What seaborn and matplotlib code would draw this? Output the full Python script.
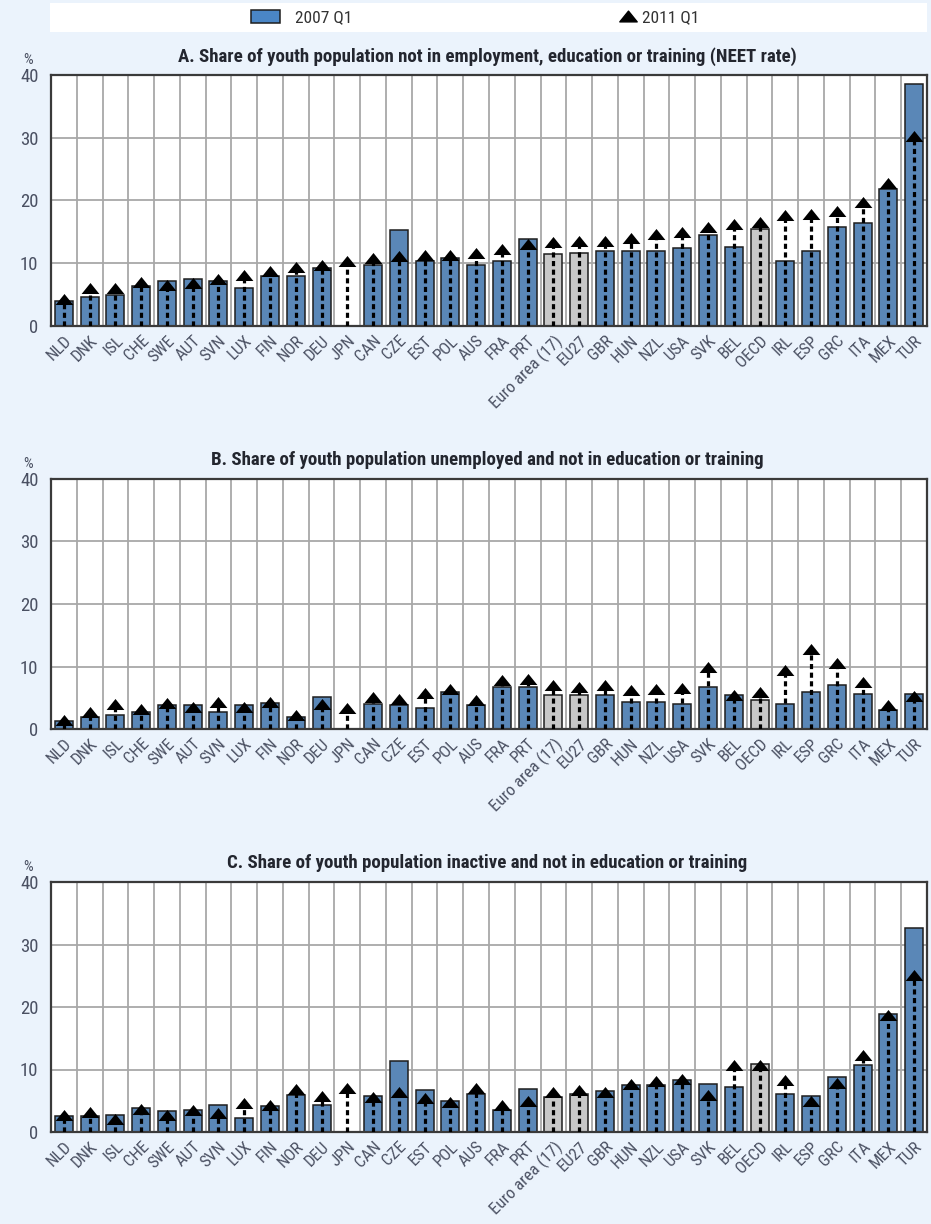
import numpy as np
import pandas as pd
import matplotlib
matplotlib.use("Agg")
import matplotlib.pyplot as plt
import matplotlib.font_manager as fm
from matplotlib.patches import Rectangle, Patch
from matplotlib.lines import Line2D
from matplotlib.path import Path
import seaborn as sns

# ---------------------------------------------------------------- data
countries = ["NLD", "DNK", "ISL", "CHE", "SWE", "AUT", "SVN", "LUX", "FIN", "NOR",
             "DEU", "JPN", "CAN", "CZE", "EST", "POL", "AUS", "FRA", "PRT",
             "Euro area (17)", "EU27", "GBR", "HUN", "NZL", "USA", "SVK", "BEL",
             "OECD", "IRL", "ESP", "GRC", "ITA", "MEX", "TUR"]
aggregates = ["Euro area (17)", "EU27", "OECD"]

nan = np.nan
# A. NEET rate
neet_2007 = [4.0, 4.6, 5.0, 6.4, 7.2, 7.5, 7.2, 6.1, 7.9, 7.9, 9.3, nan, 9.8, 15.3, 10.3,
             10.8, 9.8, 10.3, 13.9, 11.4, 11.7, 11.9, 11.9, 11.9, 12.4, 14.5, 12.6, 15.5,
             10.3, 11.9, 15.8, 16.4, 21.8, 38.5]
neet_2011 = [4.3, 6.0, 6.1, 7.0, 6.6, 6.9, 7.5, 8.1, 8.7, 9.4, 9.8, 10.3, 10.9, 11.2, 11.3,
             11.3, 11.7, 12.3, 13.0, 13.4, 13.5, 13.6, 14.0, 14.7, 15.0, 15.8, 16.2, 16.6,
             17.7, 17.8, 18.4, 19.7, 22.8, 30.3]
# B. Unemployed and not in education or training
unemp_2007 = [1.3, 2.0, 2.2, 2.8, 3.8, 3.8, 2.8, 3.8, 4.1, 2.0, 5.1, nan, 4.0, 3.8, 3.3,
              5.9, 3.8, 6.7, 6.8, 5.4, 5.4, 5.4, 4.4, 4.4, 4.0, 6.7, 5.4, 4.7, 4.0, 5.9,
              7.0, 5.6, 3.0, 5.6]
unemp_2011 = [1.5, 2.7, 4.0, 3.2, 4.2, 3.5, 4.4, 3.5, 4.3, 2.3, 4.0, 3.4, 5.1, 4.8, 5.7,
              6.4, 4.6, 7.8, 8.0, 7.1, 6.8, 7.1, 6.3, 6.4, 6.5, 10.0, 5.5, 5.9, 9.4, 12.8,
              10.5, 7.5, 3.8, 5.3]
# C. Inactive and not in education or training
inact_2007 = [2.5, 2.5, 2.7, 3.8, 3.3, 3.5, 4.3, 2.2, 4.1, 5.9, 4.3, nan, 5.7, 11.4, 6.7,
              4.9, 6.1, 3.5, 6.9, 5.6, 6.1, 6.5, 7.5, 7.5, 8.3, 7.7, 7.2, 10.9, 6.1, 5.8,
              8.8, 10.7, 18.9, 32.6]
inact_2011 = [2.7, 3.2, 2.1, 3.7, 2.7, 3.6, 3.0, 4.7, 4.4, 6.9, 5.8, 7.0, 5.6, 6.4, 5.5,
              4.8, 7.0, 4.4, 4.9, 6.4, 6.7, 6.4, 7.7, 8.2, 8.5, 5.9, 10.8, 10.7, 8.3, 4.9,
              7.8, 12.3, 18.8, 25.1]

titles = ["A. Share of youth population not in employment, education or training (NEET rate)",
          "B. Share of youth population unemployed and not in education or training",
          "C. Share of youth population inactive and not in education or training"]
series_labels = ["2007 Q1", "2011 Q1"]
y_ticks = [0, 10, 20, 30, 40]

# ---------------------------------------------------------------- style
BG = "#EBF3FC"
BLUE = "#4A86C6"
GREY = "#C8C8C8"
EDGE = "#1E1E1E"
FRAME = "#3A3A3A"
GRID = "#A8A8A8"
LABEL = "#4A5062"
TITLE = "#23262F"

sns.set_theme(style="white")


def pick_narrow_font():
    """Return (family, stretch) of an installed narrow sans face, if any."""
    keys = ("narrow", "condensed", "cond")
    found = []
    for f in fm.fontManager.ttflist:
        fname = f.fname.lower().replace("-", "").replace("_", "")
        name = f.name.lower()
        if any(k in fname for k in keys) or any(k in name for k in keys) \
                or str(f.stretch) in ("condensed", "semi-condensed", "extra-condensed"):
            if "mono" in fname or "serif" in name and "sans" not in name:
                continue
            found.append(f)
    pref = ["liberation sans narrow", "roboto condensed", "open sans condensed",
            "noto sans", "dejavu sans"]
    for p in pref:
        for f in found:
            if f.name.lower().startswith(p):
                return f.name, f.stretch
    if found:
        return found[0].name, found[0].stretch
    return None, None


fam, stretch = pick_narrow_font()
if fam is not None:
    plt.rcParams["font.family"] = [fam, "DejaVu Sans"]
    plt.rcParams["font.stretch"] = stretch
    SIZE_SCALE = 1.0
else:
    plt.rcParams["font.family"] = ["Roboto", "DejaVu Sans"]
    SIZE_SCALE = 0.9

# wide, flat triangle for the 2011 markers
TRI = Path([(-1, -0.62), (1, -0.62), (0, 0.62), (-1, -0.62)],
           [Path.MOVETO, Path.LINETO, Path.LINETO, Path.CLOSEPOLY])

palette = {c: (GREY if c in aggregates else BLUE) for c in countries}

W, H = 931, 1224
fig = plt.figure(figsize=(W / 100, H / 100), dpi=100, facecolor=BG)

LEFT, RIGHT = 51, 927
panels = [
    (neet_2007, neet_2011, 75, 326, 57),
    (unemp_2007, unemp_2011, 479, 729, 460),
    (inact_2007, inact_2011, 882, 1132, 863),
]

x = np.arange(len(countries))
for (v07, v11, top, bottom, title_y), title in zip(panels, titles):
    ax = fig.add_axes([LEFT / W, 1 - bottom / H, (RIGHT - LEFT) / W, (bottom - top) / H])
    ax.set_facecolor("white")
    ax.set_axisbelow(True)

    df = pd.DataFrame({"country": countries, "y2007": v07, "y2011": v11})
    sns.barplot(data=df, x="country", y="y2007", hue="country", order=countries,
                hue_order=countries, palette=palette, legend=False, width=0.7,
                edgecolor=EDGE, linewidth=1.1, errorbar=None, ax=ax, zorder=2)

    ax.vlines(x, 0, df["y2011"], colors="black", linestyles=(0, (1.6, 1.1)),
              linewidth=2.3, zorder=3)
    ax.scatter(x, df["y2011"], marker=TRI, s=12.8 ** 2, color="black",
               linewidths=0, zorder=4)

    ax.set_xlim(-0.5, len(countries) - 0.5)
    ax.set_ylim(0, 40)
    ax.set_yticks(y_ticks)
    ax.set_xticks(x)
    ax.set_xticklabels(countries, rotation=45, ha="right", rotation_mode="anchor")
    ax.set_xticks(x[:-1] + 0.5, minor=True)
    ax.set_xlabel("")
    ax.set_ylabel("")

    ax.grid(which="minor", axis="x", color=GRID, linewidth=1.3)
    ax.grid(which="major", axis="y", color=GRID, linewidth=1.3)
    ax.grid(which="major", axis="x", visible=False)

    for sp in ax.spines.values():
        sp.set_visible(True)
        sp.set_color(FRAME)
        sp.set_linewidth(1.6)

    ax.tick_params(axis="y", which="major", direction="in", length=6, width=1.2,
                   color=FRAME, labelsize=13.5 * SIZE_SCALE, labelcolor=LABEL, pad=9)
    ax.tick_params(axis="x", which="both", length=0, labelsize=12.2 * SIZE_SCALE,
                   labelcolor=LABEL, pad=5)

    fig.text(487 / W, 1 - title_y / H, title, ha="center", va="center",
             fontsize=13.6 * SIZE_SCALE, fontweight="bold", color=TITLE)
    fig.text(28 / W, 1 - (top - 15) / H, "%", ha="center", va="center",
             fontsize=11 * SIZE_SCALE, color=LABEL)

# legend band across the top, one entry per series
fig.add_artist(Rectangle((50 / W, 1 - 32 / H), 877 / W, 29 / H, transform=fig.transFigure,
                         facecolor="white", edgecolor="none", zorder=0))
legend_common = dict(loc="center left", frameon=False, fontsize=12.5 * SIZE_SCALE,
                     borderpad=0, borderaxespad=0, labelcolor="#333333")
leg1 = fig.legend([Patch(facecolor=BLUE, edgecolor=EDGE, linewidth=1.1)], series_labels[:1],
                  bbox_to_anchor=(251 / W, 1 - 17.5 / H), handlelength=1.65,
                  handleheight=0.85, handletextpad=0.9, **legend_common)
leg2 = fig.legend([Line2D([], [], marker=TRI, color="black", linestyle="none",
                          markersize=12.5)], series_labels[1:],
                  bbox_to_anchor=(618 / W, 1 - 17.5 / H), handlelength=1.1,
                  handletextpad=0.3, **legend_common)

fig.savefig("out.png", dpi=100, facecolor=BG)
